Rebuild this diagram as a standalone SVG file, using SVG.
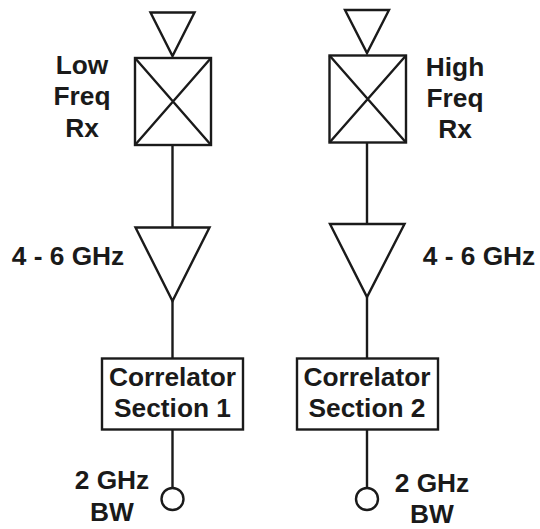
<svg xmlns="http://www.w3.org/2000/svg" width="540" height="529" viewBox="0 0 540 529">
<style>
.s{fill:none;stroke:#1a1a1a;stroke-width:2.4;stroke-linejoin:miter}
.w{fill:#fff;stroke:#1a1a1a;stroke-width:2.4}
.t{font-family:"Liberation Sans",Arial,sans-serif;font-weight:700;font-size:26.3px;fill:#1a1a1a;text-anchor:middle}
</style>
<rect width="540" height="529" fill="#fff"/>
<g id="connectors">
<path class="s" d="M172.5 145V227.5M172.5 301V358.5M172.5 429V488"/>
<path class="s" d="M367 142.5V224M367 297V358.5M367 429V488"/>
</g>
<g id="antenna-1"><polygon class="s" points="150.5,12.5 194.5,12.5 172.5,56"/></g>
<g id="rx-low"><rect class="s" x="135" y="58" width="76" height="87"/><path class="s" d="M135 58L211 145M211 58L135 145"/>
<text class="t" x="82" y="74">Low</text><text class="t" x="82" y="105">Freq</text><text class="t" x="82" y="137">Rx</text></g>
<g id="amp-1"><polygon class="s" points="135.5,227.5 209.5,227.5 172.5,301"/><text class="t" x="68" y="265">4 - 6 GHz</text></g>
<g id="correlator-1"><rect class="s" x="102" y="358.5" width="141" height="71"/><text class="t" x="172.5" y="386">Correlator</text><text class="t" x="172.5" y="417">Section 1</text></g>
<g id="output-1"><circle class="w" cx="172.5" cy="499" r="11"/><text class="t" x="112" y="489">2 GHz</text><text class="t" x="112" y="521">BW</text></g>
<g id="antenna-2"><polygon class="s" points="345,10 389,10 367,53"/></g>
<g id="rx-high"><rect class="s" x="329.5" y="55.5" width="76.5" height="87"/><path class="s" d="M329.5 55.5L406 142.5M406 55.5L329.5 142.5"/>
<text class="t" x="455" y="76">High</text><text class="t" x="455" y="107">Freq</text><text class="t" x="455" y="138">Rx</text></g>
<g id="amp-2"><polygon class="s" points="330,224 404.5,224 367,297"/><text class="t" x="479" y="265">4 - 6 GHz</text></g>
<g id="correlator-2"><rect class="s" x="297" y="358.5" width="141" height="71"/><text class="t" x="367" y="386">Correlator</text><text class="t" x="367" y="417">Section 2</text></g>
<g id="output-2"><circle class="w" cx="367" cy="499" r="11"/><text class="t" x="432" y="492">2 GHz</text><text class="t" x="432" y="523">BW</text></g>
</svg>
